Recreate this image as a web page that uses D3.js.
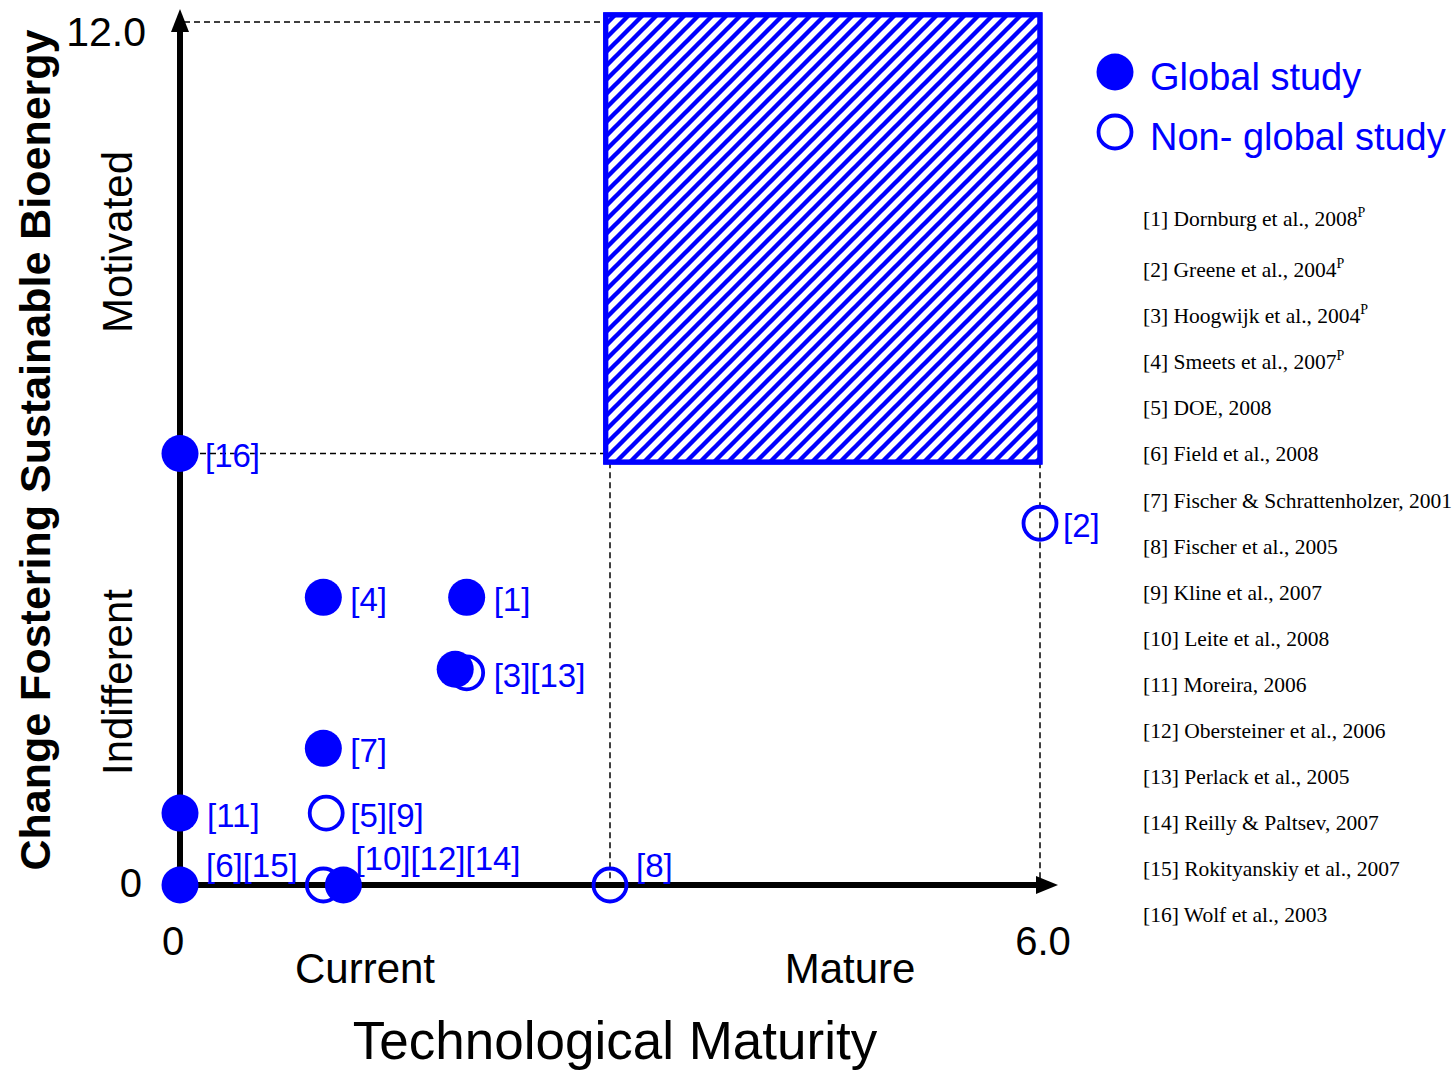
<!DOCTYPE html>
<html>
<head>
<meta charset="utf-8">
<script src="https://d3js.org/d3.v7.min.js"></script>
<style>
  body { margin: 0; background: #fff; }
  svg { display: block; font-family: "Liberation Sans", Arial, sans-serif; }
</style>
</head>
<body>
<div id="chart"></div>
<script>
// ---- data ----
// each marker: x = technological maturity, y = change fostering, filled = global study
const markerX      = [0,    1.0,  2.0,  2.0,   1.92, 1.0,  0,    1.02,  0,    1.0,   1.14, 3.0,   6.0];
const markerY      = [6.0,  4.0,  4.0,  2.95,  3.0,  1.9,  1.0,  1.0,   0,    0,     0,    0,     5.03];
const markerFilled = [true, true, true, false, true, true, true, false, true, false, true, false, false];

// labels sit next to a marker
const labelText = ["[16]", "[4]", "[1]", "[3][13]", "[7]", "[11]", "[5][9]", "[6][15]", "[10][12][14]", "[8]", "[2]"];
const labelX    = [0,      1.0,   2.0,   2.0,       1.0,   0,      1.0,      0,         1.14,           3.0,   6.0];
const labelY    = [6.0,    4.0,   4.0,   2.95,      1.9,   1.0,    1.0,      0,         0,              0,     5.03];

const xTicks = ["0", "6.0"];
const yTicks = ["0", "12.0"];
const zoneTarget = {x0: 2.97, x1: 6.0, y0: 5.88, y1: 12.1};

const legendItems = ["Global study", "Non- global study"];
const references = [
  "[1] Dornburg et al., 2008", "[2] Greene et al., 2004", "[3] Hoogwijk et al., 2004",
  "[4] Smeets et al., 2007", "[5] DOE, 2008", "[6] Field et al., 2008",
  "[7] Fischer & Schrattenholzer, 2001", "[8] Fischer et al., 2005", "[9] Kline et al., 2007",
  "[10] Leite et al., 2008", "[11] Moreira, 2006", "[12] Obersteiner et al., 2006",
  "[13] Perlack et al., 2005", "[14] Reilly & Paltsev, 2007", "[15] Rokityanskiy et al., 2007",
  "[16] Wolf et al., 2003"
];
const refSuperscript = [true, true, true, true];

// ---- layout ----
const W = 1453, H = 1073;
const blue = "#0000ff";

const x = d3.scaleLinear().domain([0, 6]).range([180, 1040]);
const y = d3.scaleLinear().domain([0, 12]).range([885, 22]);

const svg = d3.select("#chart").append("svg")
  .attr("width", W).attr("height", H);

// hatch pattern
const defs = svg.append("defs");
defs.append("pattern")
  .attr("id", "hatch")
  .attr("patternUnits", "userSpaceOnUse")
  .attr("width", 14).attr("height", 14)
  .append("path")
  .attr("d", "M-2,2 l4,-4 M0,14 l14,-14 M12,16 l4,-4")
  .attr("stroke", blue)
  .attr("stroke-width", 4.4);

// dashed guide lines
const dashes = svg.append("g")
  .attr("stroke", "#000")
  .attr("stroke-width", 1.5)
  .attr("stroke-dasharray", "6,4")
  .attr("fill", "none");
dashes.append("line")
  .attr("x1", x(0) + 4).attr("x2", x(zoneTarget.x0))
  .attr("y1", y(12)).attr("y2", y(12));
dashes.append("line")
  .attr("x1", x(0) + 20).attr("x2", x(6))
  .attr("y1", y(6)).attr("y2", y(6));
dashes.append("line")
  .attr("x1", x(3)).attr("x2", x(3))
  .attr("y1", y(zoneTarget.y0)).attr("y2", y(0));
dashes.append("line")
  .attr("x1", x(6)).attr("x2", x(6))
  .attr("y1", y(zoneTarget.y0)).attr("y2", y(0));

// target zone (white under the hatch hides the guides)
const zone = svg.append("g");
["#fff", "url(#hatch)"].forEach(fill => {
  zone.append("rect")
    .attr("x", x(zoneTarget.x0))
    .attr("y", y(zoneTarget.y1))
    .attr("width", x(zoneTarget.x1) - x(zoneTarget.x0))
    .attr("height", y(zoneTarget.y0) - y(zoneTarget.y1))
    .attr("fill", fill)
    .attr("stroke", blue)
    .attr("stroke-width", 5);
});

// axes with arrow heads
svg.append("line")
  .attr("x1", x(0)).attr("x2", x(0))
  .attr("y1", y(0) + 3).attr("y2", 22)
  .attr("stroke", "#000").attr("stroke-width", 6);
svg.append("path")
  .attr("d", `M${x(0)},9 L${x(0) - 9},32 L${x(0) + 9},32 Z`)
  .attr("fill", "#000");
svg.append("line")
  .attr("x1", x(0) - 3).attr("x2", 1045)
  .attr("y1", y(0)).attr("y2", y(0))
  .attr("stroke", "#000").attr("stroke-width", 6);
svg.append("path")
  .attr("d", `M1058,${y(0)} L1036,${y(0) - 9} L1036,${y(0) + 9} Z`)
  .attr("fill", "#000");

// tick labels
svg.append("text").attr("x", 173).attr("y", 955)
  .attr("text-anchor", "middle").attr("font-size", 40).text(xTicks[0]);
svg.append("text").attr("x", 1043).attr("y", 955)
  .attr("text-anchor", "middle").attr("font-size", 40).text(xTicks[1]);
svg.append("text").attr("x", 142).attr("y", 897)
  .attr("text-anchor", "end").attr("font-size", 40).text(yTicks[0]);
svg.append("text").attr("x", 146).attr("y", 46)
  .attr("text-anchor", "end").attr("font-size", 41).text(yTicks[1]);

// axis captions
svg.append("text").attr("x", 365).attr("y", 983)
  .attr("text-anchor", "middle").attr("font-size", 42).text("Current");
svg.append("text").attr("x", 850).attr("y", 983)
  .attr("text-anchor", "middle").attr("font-size", 42).text("Mature");
svg.append("text").attr("x", 615).attr("y", 1059)
  .attr("text-anchor", "middle").attr("font-size", 53).text("Technological Maturity");

svg.append("text")
  .attr("transform", "translate(132,242) rotate(-90)")
  .attr("text-anchor", "middle").attr("font-size", 42).text("Motivated");
svg.append("text")
  .attr("transform", "translate(132,682) rotate(-90)")
  .attr("text-anchor", "middle").attr("font-size", 42).text("Indifferent");
svg.append("text")
  .attr("transform", "translate(50,450) rotate(-90)")
  .attr("text-anchor", "middle").attr("font-size", 43).attr("font-weight", "bold")
  .text("Change Fostering Sustainable Bioenergy");

// markers
const markers = markerX.map((d, i) => ({x: d, y: markerY[i], filled: markerFilled[i]}));
svg.append("g").selectAll("circle")
  .data(markers)
  .join("circle")
  .attr("cx", d => x(d.x))
  .attr("cy", d => y(d.y))
  .attr("r", d => d.filled ? 18.5 : 16.5)
  .attr("fill", d => d.filled ? blue : "#fff")
  .attr("fill-opacity", d => d.filled ? 1 : 0)
  .attr("stroke", blue)
  .attr("stroke-width", d => d.filled ? 0 : 3.8);

// labels (a few are nudged above the axis)
const nudge = {
  "[6][15]": [26, -8],
  "[10][12][14]": [12, -15],
  "[8]": [26, -8],
  "[16]": [25, 13],
  "[2]": [23, 14]
};
svg.append("g").selectAll("text")
  .data(labelText.map((t, i) => ({t, x: labelX[i], y: labelY[i]})))
  .join("text")
  .attr("x", d => x(d.x) + (nudge[d.t] ? nudge[d.t][0] : 27))
  .attr("y", d => y(d.y) + (nudge[d.t] ? nudge[d.t][1] : 14))
  .attr("fill", blue)
  .attr("font-size", 33)
  .text(d => d.t);

// legend
const legend = svg.append("g");
legendItems.forEach((name, i) => {
  const cy = 72 + i * 60;
  legend.append("circle")
    .attr("cx", 1115).attr("cy", cy)
    .attr("r", i === 0 ? 18.5 : 16.5)
    .attr("fill", i === 0 ? blue : "none")
    .attr("stroke", blue)
    .attr("stroke-width", i === 0 ? 0 : 3.8);
  legend.append("text")
    .attr("x", 1150).attr("y", cy + 18)
    .attr("fill", blue).attr("font-size", 38)
    .text(name);
});

// reference list
const refs = svg.append("g")
  .attr("font-family", "'Liberation Serif', 'Times New Roman', serif")
  .attr("font-size", 21.5);
references.forEach((r, i) => {
  const t = refs.append("text")
    .attr("x", 1143)
    .attr("y", i === 0 ? 226 : 277 + (i - 1) * 46.1)
    .text(r);
  if (refSuperscript[i]) {
    t.append("tspan").attr("dy", -9).attr("font-size", 14).text("P");
  }
});
</script>
</body>
</html>
